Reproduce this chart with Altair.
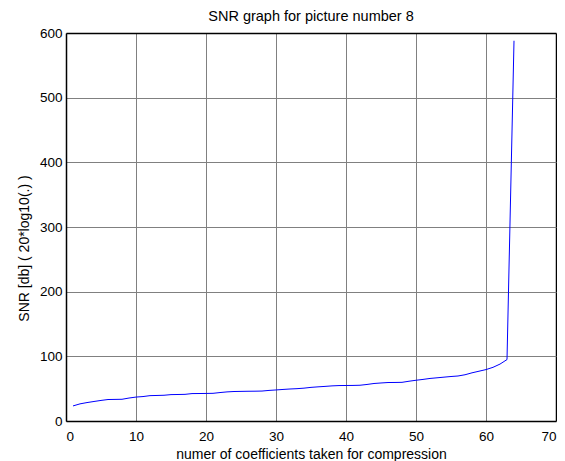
import altair as alt
import pandas as pd

coefficients = list(range(1, 65))
snr_db = [23.3, 26.5, 28.5, 30.2, 31.8, 33.2, 33.4, 33.6, 35.5, 37.0,
          37.8, 39.2, 39.5, 39.8, 40.8, 41.0, 41.2, 42.4, 42.5, 42.6,
          42.8, 44.0, 45.0, 45.6, 45.8, 46.0, 46.1, 46.3, 47.3, 48.0,
          48.8, 49.5, 50.0, 50.8, 52.0, 52.8, 53.5, 54.3, 54.8, 54.9,
          55.0, 55.3, 56.5, 58.0, 58.8, 59.5, 59.6, 59.8, 61.5, 63.0,
          64.3, 65.8, 66.8, 67.8, 68.8, 69.6, 71.5, 74.5, 77.0, 79.5,
          83.0, 88.0, 95.0, 588.0]
x_ticks = [0, 10, 20, 30, 40, 50, 60, 70]
y_ticks = [0, 100, 200, 300, 400, 500, 600]

df = pd.DataFrame({"n": coefficients, "snr": snr_db})

FONT = "Liberation Sans"
GRID = "#808080"

chart = alt.Chart(df).mark_line(color="#0000ff", strokeWidth=1).encode(
    x=alt.X("n:Q",
            scale=alt.Scale(domain=[0, 70], nice=False, zero=False),
            axis=alt.Axis(values=x_ticks, title="numer of coefficients taken for compression",
                          grid=True, ticks=False, tickSize=0, labelPadding=8,
                          domain=True, domainColor="black", domainWidth=1.5,
                          gridColor={"condition": {"test": "datum.value === 70", "value": "black"}, "value": GRID},
                          gridWidth={"condition": {"test": "datum.value === 70", "value": 1.5}, "value": 1},
                          titleBaseline="alphabetic", titleY=37, titlePadding=0)),
    y=alt.Y("snr:Q",
            scale=alt.Scale(domain=[0, 600], nice=False, zero=False),
            axis=alt.Axis(values=y_ticks, title="SNR [db] ( 20*log10(.) )",
                          grid=True, ticks=False, tickSize=0, labelPadding=4,
                          domain=True, domainColor="black", domainWidth=1.5,
                          gridColor={"condition": {"test": "datum.value === 600", "value": "black"}, "value": GRID},
                          gridWidth={"condition": {"test": "datum.value === 600", "value": 1.5}, "value": 1},
                          titleAngle=270, titleX=-38, titleY=215,
                          titleBaseline="alphabetic", titleAlign="center")),
).properties(
    width=490, height=388,
    title=alt.TitleParams("SNR graph for picture number 8", font=FONT, fontSize=14.5,
                          fontWeight="normal", color="black", anchor="middle",
                          frame="group", offset=2),
    autosize="none",
    padding={"left": 58, "top": 25, "right": 1, "bottom": 40},
).configure_view(stroke=None).configure_axis(
    labelFont=FONT, labelFontSize=13.5, labelColor="black",
    titleFont=FONT, titleFontSize=14, titleFontWeight="normal", titleColor="black",
    gridOpacity=1,
)

chart.save("out.html", embed_options={"renderer": "svg", "actions": False})
